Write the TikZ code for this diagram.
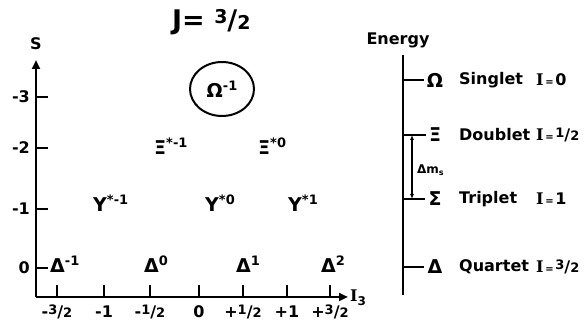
\documentclass[tikz,border=0pt]{standalone}
\usepackage{fontspec}
\setmainfont{DejaVu Sans}
\newfontfamily\serifI{DejaVu Serif}
\usetikzlibrary{arrows.meta,shapes.geometric}

\newcommand\upidx[1]{\raisebox{0.45em}{\fontsize{13}{13}\selectfont #1}}
\newcommand\hfr[2]{\raisebox{0.2em}{\fontsize{13}{13}\selectfont #1}/{\fontsize{13}{13}\selectfont #2}}
\newcommand\Ivar{{\serifI I}}
\newcommand\eqs{{\fontsize{10}{10}\selectfont\,=\,}}
\newcommand\glyph[1]{{\fontsize{19}{19}\selectfont #1}}

\tikzset{
  lab/.style={font=\fontsize{16}{18}\selectfont\bfseries, inner sep=1pt},
  axis/.style={line width=2.4pt, -{Triangle[length=9pt,width=8pt]}},
  tick/.style={line width=2pt},
}

\begin{document}
\begin{tikzpicture}[x=1pt, y=-1pt]
    \useasboundingbox (0,0) rectangle (587,331);
    \node[font=\fontsize{27}{27}\selectfont\bfseries, anchor=west, inner sep=0pt] (title) at (172,22) {J= \raisebox{0.2em}{\fontsize{19}{19}\selectfont 3}/{\fontsize{19}{19}\selectfont 2}};
    % S -- I3 plane
    \coordinate (orig) at (36,297);
    \coordinate (stop) at (36,60);
    \coordinate (iend) at (348,297);
    \draw[axis] (orig) -- (stop);
    \draw[axis] (orig) -- (iend);
    \node[lab] (slab) at (36,44) {S};
    \node[lab, anchor=west] (ilab) at (349,298) {\Ivar\raisebox{-0.25em}{\fontsize{12}{12}\selectfont 3}};
    \foreach \y/\lab [count=\k] in {97/-3, 148/-2, 209/-1, 268/0}{
        \coordinate (sa\k) at (36,\y);
        \coordinate (sb\k) at (48,\y);
        \draw[tick] (sa\k) -- (sb\k);
        \node[lab, anchor=east] (sl\k) at (31,\y) {\lab};
    }
    \foreach \x/\lab [count=\k] in {57/{-\hfr{3}{2}}, 104/-1, 150/{-\hfr{1}{2}}, 199/0, 243/{+\hfr{1}{2}}, 287/+1, 330/{+\hfr{3}{2}}}{
        \coordinate (ia\k) at (\x,297);
        \coordinate (ib\k) at (\x,285);
        \draw[tick] (ia\k) -- (ib\k);
        \node[lab] (il\k) at (\x,312) {\lab};
    }
    % multiplet
    \foreach \x/\q [count=\k] in {58/-1, 152/0, 244/1, 329/2}{
        \node[lab, anchor=base west] (dl\k) at (\x-9,273) {\glyph{Δ}\upidx{\q}};
    }
    \foreach \x/\q [count=\k] in {100/{*-1}, 212/{*0}, 295/{*1}}{
        \node[lab, anchor=base west] (yl\k) at (\x-8,212) {\glyph{Y}\upidx{\q}};
    }
    \foreach \x/\q [count=\k] in {161/{*-1}, 265/{*0}}{
        \node[lab, anchor=base west] (xl\k) at (\x-8,155) {\glyph{Ξ}\upidx{\q}};
    }
    \node[lab, draw, ellipse, line width=2pt, minimum width=64pt, minimum height=54pt, inner sep=0pt] (om) at (222,89) {\glyph{Ω}\upidx{-1}};
    % energy levels
    \coordinate (etop) at (403,55);
    \coordinate (ebot) at (403,295);
    \draw[line width=2.6pt] (etop) -- (ebot);
    \node[lab] (energy) at (398,40) {Energy};
    \foreach \y/\sym/\name/\iso [count=\k] in {80/Ω/Singlet/0, 135/Ξ/Doublet/{\hfr{1}{2}}, 199/Σ/Triplet/1, 267/Δ/Quartet/{\hfr{3}{2}}}{
        \coordinate (ea\k) at (403,\y);
        \node[lab] (es\k) at (435,\y) {\glyph{\sym}};
        \draw[tick, shorten >=2pt] (ea\k) -- (es\k.west);
        \node[lab, anchor=west] (en\k) at (458,\y) {\name};
        \node[lab, anchor=west] (ei\k) at (535,\y) {\Ivar\eqs\iso};
    }
    \coordinate (dm1) at (412,135);
    \coordinate (dm2) at (412,199);
    \draw[line width=1.3pt, {Latex[length=5pt,width=4pt]}-{Latex[length=5pt,width=4pt]}] (dm1) -- (dm2);
    \node[font=\fontsize{12}{12}\selectfont\bfseries, anchor=west, inner sep=0pt] (dms) at (417,170) {Δm\raisebox{-0.2em}{\fontsize{8}{8}\selectfont s}};
\end{tikzpicture}
\end{document}
